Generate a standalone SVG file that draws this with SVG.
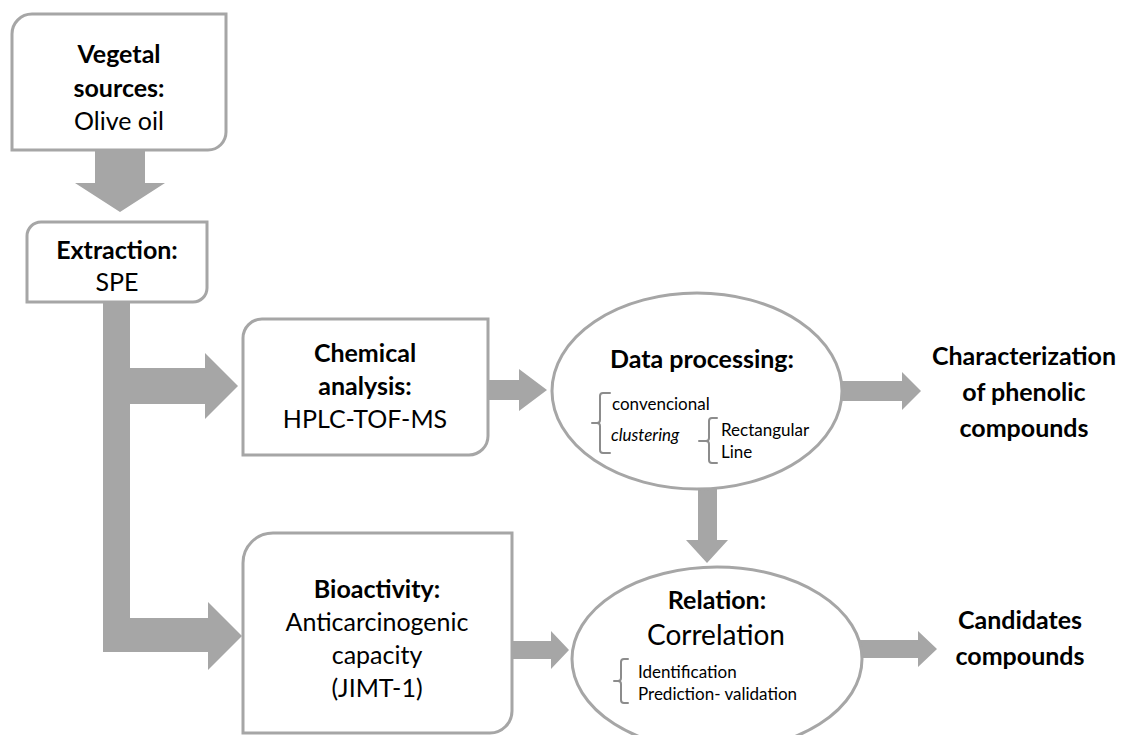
<svg xmlns="http://www.w3.org/2000/svg" width="1123" height="735" viewBox="0 0 1123 735">
  <style>
    .box { fill: #ffffff; stroke: #a6a6a6; stroke-width: 3; }
    .arrow { fill: #a6a6a6; stroke: none; }
    .brace { fill: none; stroke: #8c8c8c; stroke-width: 2; stroke-linejoin: round; stroke-linecap: round; }
    text { font-family: Lato, "Liberation Sans", sans-serif; fill: #000000; text-anchor: middle; }
    .b { font-weight: bold; }
    .h { font-size: 25px; }
    .r { font-size: 25px; }
    .s { font-size: 17px; text-anchor: start; }
    .i { font-style: italic; }
  </style>
  <rect width="1123" height="735" fill="#ffffff"/>

  <!-- connectors -->
  <g id="connectors">
    <!-- source to extraction -->
    <polygon class="arrow" points="95,150 145,150 145,183 165,183 120,212 75,183 95,183"/>
    <!-- extraction trunk, bending into the bioactivity branch -->
    <polygon class="arrow" points="103,302 130,302 130,618 208,618 208,602 242,636 208,670 208,652 103,652"/>
    <!-- branch into chemical analysis -->
    <polygon class="arrow" points="130,368 205,368 205,353 238,386 205,419 205,404 130,404"/>
    <!-- chemical analysis to data processing -->
    <polygon class="arrow" points="488,380 519,380 519,369 547,390 519,411 519,400 488,400"/>
    <!-- data processing to characterization -->
    <polygon class="arrow" points="842,381 902,381 902,372 921,391 902,410 902,401 842,401"/>
    <!-- data processing down to relation -->
    <polygon class="arrow" points="698,488 717,488 717,540 728,540 707,563 686,540 698,540"/>
    <!-- bioactivity to relation -->
    <polygon class="arrow" points="512,641 551,641 551,631 569,650 551,669 551,659 512,659"/>
    <!-- relation to candidates -->
    <polygon class="arrow" points="860,640 918,640 918,631 937,649 918,667 918,658 860,658"/>
  </g>

  <g id="node-vegetal">
    <path class="box" d="M12,34 A20,20 0 0 1 32,14 L226,14 L226,132 A18,18 0 0 1 208,150 L12,150 Z"/>
    <text class="b h" x="119" y="63">Vegetal</text>
    <text class="b h" x="119" y="97">sources:</text>
    <text class="r" x="119" y="130">Olive oil</text>
  </g>

  <g id="node-extraction">
    <path class="box" d="M27,236 A14,14 0 0 1 41,222 L207,222 L207,288 A14,14 0 0 1 193,302 L27,302 Z"/>
    <text class="b h" x="117" y="259">Extraction:</text>
    <text class="r" x="117" y="291">SPE</text>
  </g>

  <g id="node-chemical">
    <path class="box" d="M243,338 A19,19 0 0 1 262,319 L488,319 L488,436 A19,19 0 0 1 469,455 L243,455 Z"/>
    <text class="b h" x="365" y="362">Chemical</text>
    <text class="b h" x="365" y="395">analysis:</text>
    <text class="r" x="365" y="428">HPLC-TOF-MS</text>
  </g>

  <g id="node-data">
    <ellipse class="box" cx="697" cy="391" rx="145" ry="98"/>
    <text class="b h" x="702" y="368">Data processing:</text>
    <path class="brace" d="M610,393 L603,393 Q600,393 600,396 L600,420 Q600,423 597,423 L592,423 M597,423 Q600,423 600,426 L600,450 Q600,453 603,453 L610,453"/>
    <text class="s" x="612" y="410">convencional</text>
    <text class="s i" x="611" y="441">clustering</text>
    <path class="brace" d="M717,418 L712,418 Q709,418 709,421 L709,438 Q709,441 706,441 L699,441 M706,441 Q709,441 709,444 L709,460 Q709,463 712,463 L717,463"/>
    <text class="s" x="721" y="436">Rectangular</text>
    <text class="s" x="721" y="458">Line</text>
  </g>

  <g id="node-characterization">
    <text class="b h" x="1024" y="365">Characterization</text>
    <text class="b h" x="1024" y="401">of phenolic</text>
    <text class="b h" x="1024" y="437">compounds</text>
  </g>

  <g id="node-bioactivity">
    <path class="box" d="M243,563 A30,30 0 0 1 273,533 L512,533 L512,711 A22,22 0 0 1 490,733 L243,733 Z"/>
    <text class="b h" x="377" y="598">Bioactivity:</text>
    <text class="r" x="377" y="631">Anticarcinogenic</text>
    <text class="r" x="377" y="664">capacity</text>
    <text class="r" x="377" y="697">(JIMT-1)</text>
  </g>

  <g id="node-relation">
    <ellipse class="box" cx="717" cy="659" rx="145" ry="92"/>
    <text class="b h" x="717" y="609">Relation:</text>
    <text class="r" x="716" y="645" style="font-size:28px">Correlation</text>
    <path class="brace" d="M628,659 L624,659 Q621,659 621,662 L621,678 Q621,681 618,681 L614,681 M618,681 Q621,681 621,684 L621,700 Q621,703 624,703 L628,703"/>
    <text class="s" x="638" y="678">Identification</text>
    <text class="s" x="638" y="700">Prediction- validation</text>
  </g>

  <g id="node-candidates">
    <text class="b h" x="1020" y="629">Candidates</text>
    <text class="b h" x="1020" y="665">compounds</text>
  </g>
</svg>
